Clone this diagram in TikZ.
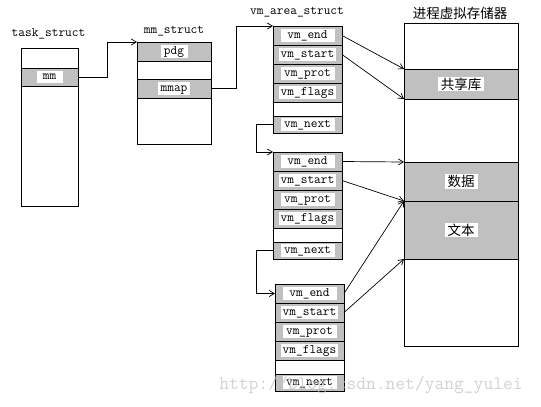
\documentclass[tikz,border=0pt]{standalone}
\usepackage{fontspec}
\newfontfamily\cjk{Noto Sans CJK SC}
\usepackage{tikz}
\usetikzlibrary{positioning,arrows.meta}
\definecolor{cellgray}{RGB}{192,192,192}
\tikzset{
  box/.style={draw, fill=white, line width=0.8pt, inner sep=0pt, outer sep=0pt, anchor=north west},
  band/.style={box, fill=cellgray},
  cellw/.style={minimum width=69pt},
  txt/.style={fill=white, inner xsep=2pt, inner ysep=1pt, text height=8pt, text depth=2.5pt, font=\fontsize{13}{15}\ttfamily},
  vmtxt/.style={txt, minimum width=54pt},
  cjktxt/.style={fill=white, inner xsep=3pt, inner ysep=1pt, font=\cjk\fontsize{13.5}{16}\selectfont},
  title/.style={inner sep=0pt, font=\fontsize{13}{15}\ttfamily},
  conn/.style={line width=0.7pt, -{Straight Barb[length=5pt,width=6pt]}}
}
% one vm_area_struct: name, left, top
\newcommand{\vmarea}[3]{%
  \node[band, cellw, minimum height=19pt, label={[vmtxt]center:vm\_end}] (#1end) at (#2,#3) {};
  \node[band, cellw, minimum height=19pt, below=0pt of #1end, label={[vmtxt]center:vm\_start}] (#1start) {};
  \node[band, cellw, minimum height=19pt, below=0pt of #1start, label={[vmtxt]center:vm\_prot}] (#1prot) {};
  \node[band, cellw, minimum height=19pt, below=0pt of #1prot, label={[vmtxt]center:vm\_flags}] (#1flags) {};
  \node[box, cellw, minimum height=14pt, below=0pt of #1flags] (#1blank) {};
  \node[band, cellw, minimum height=17pt, below=0pt of #1blank, label={[vmtxt]center:vm\_next}] (#1next) {};
}
\begin{document}
\begin{tikzpicture}[x=1pt,y=-1pt]
\useasboundingbox (0,0) rectangle (541,407);

% task_struct
\node[title] (tasklbl) at (48.5,34) {task\_struct};
\node[box, minimum width=57pt, minimum height=158pt] (task) at (21,48) {};
\node[band, minimum width=57pt, minimum height=18pt, label={[txt, minimum width=26pt]center:mm}] (mm) at (21,68) {};

% mm_struct
\node[title] (mmlbl) at (174,31) {mm\_struct};
\node[box, minimum width=74pt, minimum height=102pt] (mmbox) at (137,42) {};
\node[band, minimum width=74pt, minimum height=19pt, label={[txt, minimum width=27pt]center:pdg}] (pdg) at (137,42) {};
\node[band, minimum width=74pt, minimum height=19pt, label={[txt, minimum width=32pt]center:mmap}] (mmap) at (137,79) {};

% vm_area_struct list
\node[title] (vmlbl) at (297,12) {vm\_area\_struct};
\vmarea{a1}{273}{26}
\vmarea{a2}{273}{152}
\vmarea{a3}{275}{284}

% process virtual memory
\node[inner sep=0pt, font=\cjk\fontsize{13.5}{16}\selectfont] (vmemlbl) at (460,13) {进程虚拟存储器};
\node[box, minimum width=114pt, minimum height=323pt] (vmem) at (404,23) {};
\node[band, minimum width=114pt, minimum height=30pt, label={[cjktxt]center:共享库}] (lib) at (404,69) {};
\node[band, minimum width=114pt, minimum height=39pt, label={[cjktxt]center:数据}] (data) at (404,162) {};
\node[band, minimum width=114pt, minimum height=58pt, label={[cjktxt]center:文本}] (text) at (404,201) {};

% pointers
\draw[conn] (mm.east) -- ++(29,0) |- (pdg.north west);
\draw[conn] (mmap.east) -- ++(25,0) |- (a1end.north west);
\draw[conn] (a1next.west) -- ++(-17,0) |- (a2end.north west);
\draw[conn] (a2next.west) -- ++(-17,0) |- (a3end.west);

\draw[conn] (a1end.east) -- (lib.north west);
\draw[conn] (a1start.east) -- (lib.south west);
\draw[conn] (a2end.east) -- (data.north west);
\draw[conn] (a2start.east) -- (data.south west);
\draw[conn] (a3end.east) -- (text.north west);
\draw[conn] (a3start.east) -- (text.south west);

% watermark
\node[text=black!25, opacity=0.7, inner sep=0pt, font=\fontsize{19}{21}\ttfamily] (mark) at (371,385) {http://blog.csdn.net/yang\_yulei};
\end{tikzpicture}
\end{document}
